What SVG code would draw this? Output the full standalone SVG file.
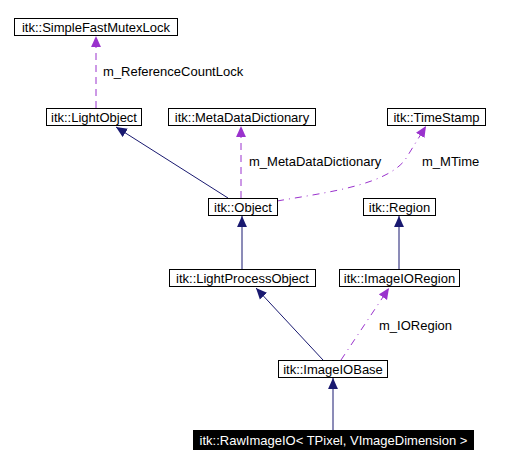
<svg xmlns="http://www.w3.org/2000/svg" width="518" height="465" viewBox="0 0 518 465">
<style>
.box{fill:#fff;stroke:#000;stroke-width:1}
.t{font-family:"Liberation Sans",Arial,sans-serif;font-size:13px;fill:#000;text-anchor:middle}
.lbl{font-family:"Liberation Sans",Arial,sans-serif;font-size:13px;fill:#000}
.inh{stroke:#191970;stroke-width:1;fill:none}
.use{stroke:#9a32cd;stroke-width:1;fill:none;stroke-dasharray:7,5}
.usedd{stroke:#9a32cd;stroke-width:1;fill:none;stroke-dasharray:7,5,1,5}
</style>
<defs>
<marker id="an" viewBox="0 0 10 10" refX="10" refY="5" markerWidth="11" markerHeight="11" markerUnits="userSpaceOnUse" orient="auto"><path d="M0,0.5 L10,5 L0,9.5 z" fill="#191970"/></marker>
<marker id="ap" viewBox="0 0 10 10" refX="10" refY="5" markerWidth="11" markerHeight="11" markerUnits="userSpaceOnUse" orient="auto"><path d="M0,0.5 L10,5 L0,9.5 z" fill="#9a32cd"/></marker>
</defs>
<rect width="518" height="465" fill="#fff"/>
<g id="connectors">
<path class="use" d="M96,108 L96,36" marker-end="url(#ap)"/>
<path class="inh" d="M228,198 L116,127" marker-end="url(#an)"/>
<path class="use" d="M241,198 L241,126" marker-end="url(#ap)"/>
<path class="usedd" d="M277,201 C330,192 385,185 405,160 L426,126" marker-end="url(#ap)"/>
<path class="inh" d="M242,269 L242,216" marker-end="url(#an)"/>
<path class="inh" d="M399,269 L399,216" marker-end="url(#an)"/>
<path class="inh" d="M323,360 L256,288" marker-end="url(#an)"/>
<path class="usedd" d="M341,360 L389,288" marker-end="url(#ap)"/>
<path class="inh" d="M333,430 L333,378" marker-end="url(#an)"/>
<text class="lbl" x="103" y="76">m_ReferenceCountLock</text>
<text class="lbl" x="249" y="166">m_MetaDataDictionary</text>
<text class="lbl" x="422" y="166">m_MTime</text>
<text class="lbl" x="379" y="330">m_IORegion</text>
</g>
<g id="SimpleFastMutexLock"><rect class="box" x="14.5" y="18.5" width="163" height="17"/><text class="t" x="96" y="31.5">itk::SimpleFastMutexLock</text></g>
<g id="LightObject"><rect class="box" x="46.5" y="108.5" width="95" height="17"/><text class="t" x="94" y="121.5">itk::LightObject</text></g>
<g id="MetaDataDictionary"><rect class="box" x="168.5" y="108.5" width="147" height="17"/><text class="t" x="242" y="121.5">itk::MetaDataDictionary</text></g>
<g id="TimeStamp"><rect class="box" x="387.5" y="108.5" width="98" height="17"/><text class="t" x="436.5" y="121.5">itk::TimeStamp</text></g>
<g id="Object"><rect class="box" x="208.5" y="198.5" width="69" height="17"/><text class="t" x="243" y="211.5">itk::Object</text></g>
<g id="Region"><rect class="box" x="363.5" y="198.5" width="72" height="17"/><text class="t" x="399.5" y="211.5">itk::Region</text></g>
<g id="LightProcessObject"><rect class="box" x="169.5" y="269.5" width="146" height="17"/><text class="t" x="242.5" y="282.5">itk::LightProcessObject</text></g>
<g id="ImageIORegion"><rect class="box" x="339.5" y="269.5" width="120" height="17"/><text class="t" x="399.5" y="282.5">itk::ImageIORegion</text></g>
<g id="ImageIOBase"><rect class="box" x="278.5" y="360.5" width="109" height="17"/><text class="t" x="333" y="373.5">itk::ImageIOBase</text></g>
<g id="RawImageIO"><rect x="193" y="430" width="281" height="20" fill="#000"/><text class="t" x="333.5" y="445" style="fill:#fff">itk::RawImageIO&lt; TPixel, VImageDimension &gt;</text></g>
</svg>
